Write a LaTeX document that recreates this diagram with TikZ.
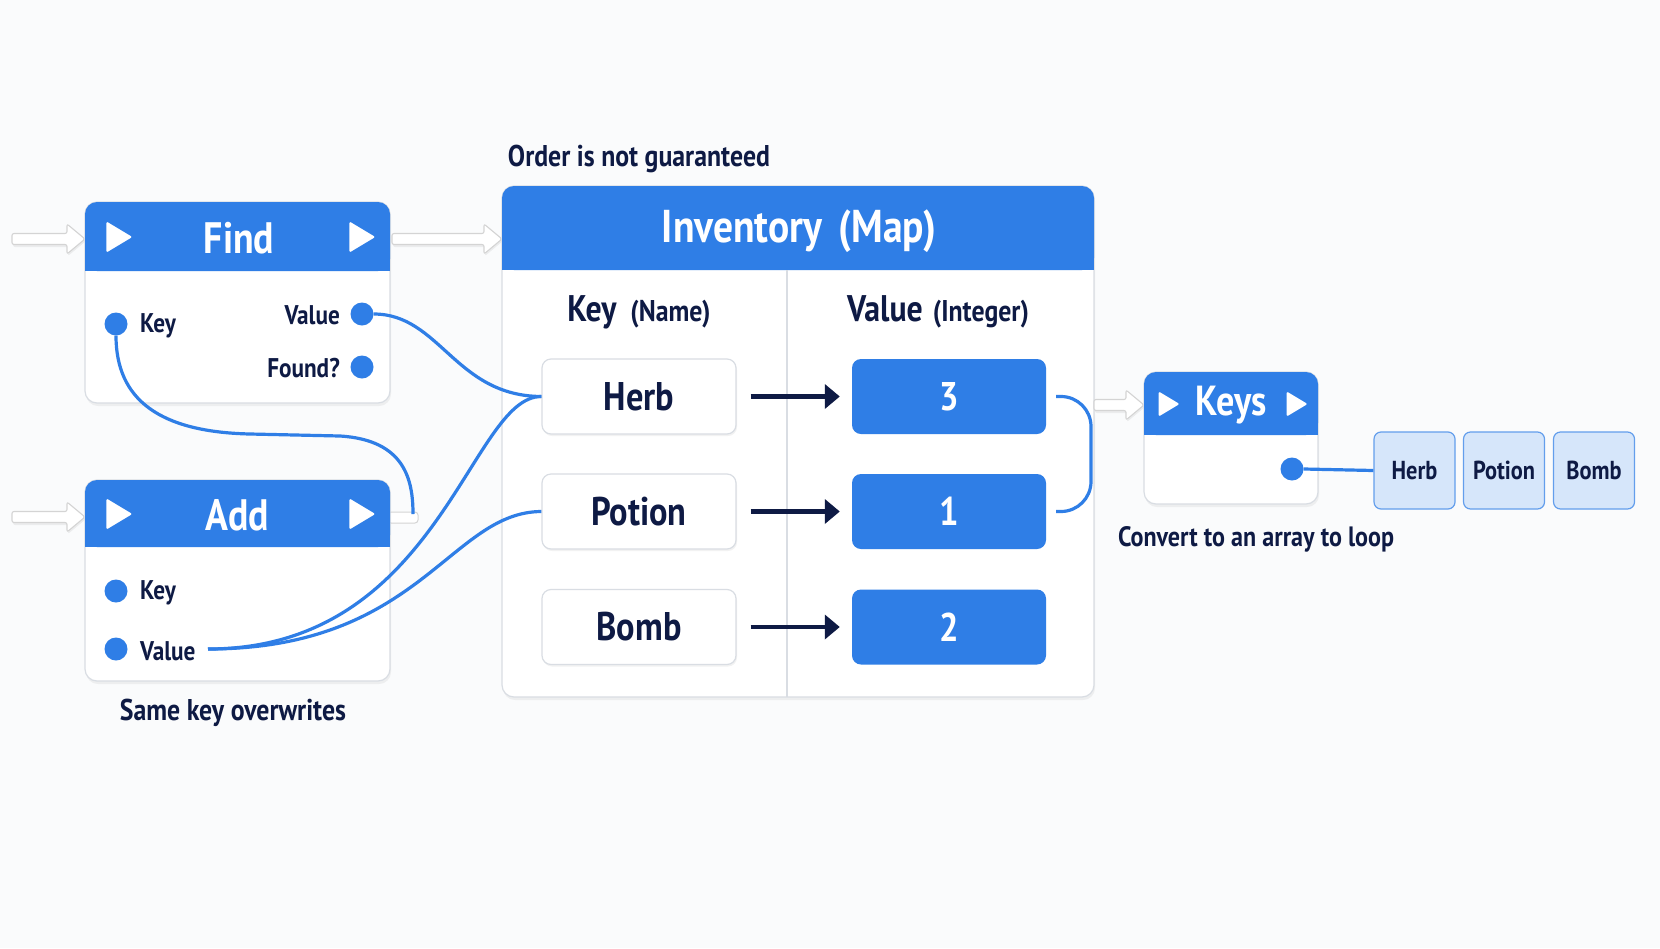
\documentclass[tikz,border=0pt]{standalone}
\usepackage{fontspec}
\setmainfont{PT Sans}[FakeStretch=0.86]
\usetikzlibrary{shadows,arrows.meta,calc}
\definecolor{bl}{HTML}{2F7EE6}
\definecolor{nv}{HTML}{0E1A44}
\definecolor{bgc}{HTML}{FAFBFC}
\definecolor{bd}{HTML}{D9DDE3}
\definecolor{lb}{HTML}{D6E6FA}
\newcommand\fs[1]{\fontsize{#1}{#1}\selectfont}
\newcommand\playtri[3]{\fill[white, rounded corners=1.5] (#1-#3*0.45,#2-#3*0.6) -- (#1+#3*0.55,#2) -- (#1-#3*0.45,#2+#3*0.6) -- cycle;}
\newcommand\harrow[3]{%
 \fill[black, opacity=0.06, rounded corners=2] (#1+1,#3-4) -- (#2-17,#3-4) -- (#2-17,#3-13) -- (#2+1,#3+2) -- (#2-17,#3+17) -- (#2-17,#3+8) -- (#1+1,#3+8) -- cycle;
 \filldraw[fill=white, draw=black!17, line width=1.1pt, rounded corners=2] (#1,#3-5.5) -- (#2-18,#3-5.5) -- (#2-18,#3-15) -- (#2,#3) -- (#2-18,#3+15) -- (#2-18,#3+5.5) -- (#1,#3+5.5) -- cycle;}
\newcommand\hdr[4]{\fill[bl, rounded corners=12] (#1,#3) rectangle (#2,#4); \fill[bl] (#1,#4-15) rectangle (#2,#4);}
\begin{document}
\begin{tikzpicture}[x=1pt,y=-1pt,
 card/.style={draw=bd, line width=1.2pt, fill=white, rounded corners=12, inner sep=0,
   drop shadow={opacity=0.10, shadow xshift=1pt, shadow yshift=-3pt}},
 hdrtxt/.style={text=white, font=\fs{44}\bfseries, inner sep=0},
 lbl/.style={text=nv, font=\fs{27}\bfseries, inner sep=0},
 note/.style={text=nv, font=\fs{29}\bfseries, inner sep=0},
 dot/.style={circle, fill=bl, minimum size=23pt, inner sep=0},
 wire/.style={draw=bl, line width=3.2pt},
 kbox/.style={draw=bd, line width=1.2pt, fill=white, rounded corners=9, minimum width=194pt, minimum height=75pt, inner sep=0,
   text=nv, font=\fs{40}\bfseries, drop shadow={opacity=0.10, shadow xshift=1pt, shadow yshift=-2pt}},
 vbox/.style={fill=bl, rounded corners=9, minimum width=194pt, minimum height=75pt, inner sep=0, text=white, font=\fs{40}\bfseries},
 abox/.style={fill=lb, draw=bl!75, line width=1.2pt, rounded corners=7, minimum width=81pt, minimum height=77pt, inner sep=0,
   text=nv, font=\fs{26}\bfseries},
 arr/.style={draw=nv, line width=4.5pt, -{Triangle[length=15pt,width=24pt]}, shorten <=14pt, shorten >=12pt}]
\fill[bgc] (0,0) rectangle (1660,948);
\useasboundingbox (0,0) rectangle (1660,948);

% ---- Find card
\harrow{12}{85}{239}
\harrow{392}{502}{239}
\node[card, minimum width=305pt, minimum height=201pt] (find) at (237.5,302.5) {};
\hdr{85}{390}{202}{271}
\playtri{118}{237}{26}
\playtri{361}{237}{26}
\node[hdrtxt] (findT) at (239,238) {Find};
\node[dot] (fk) at (116,324) {};
\node[lbl, anchor=west] (fkL) at (140,326) {Key};
\node[dot] (fv) at (362,314) {};
\node[lbl, anchor=east] (fvL) at (340,315) {Value};
\node[dot] (ff) at (362,367) {};
\node[lbl, anchor=east] (ffL) at (340,368) {Found?};

% ---- Add card
\harrow{12}{85}{517}
\filldraw[fill=white, draw=black!17, line width=1pt, rounded corners=3] (388,512) rectangle (418,523);
\coordinate (astub) at (413,514);
\node[card, minimum width=305pt, minimum height=201pt] (add) at (237.5,580.5) {};
\hdr{85}{390}{480}{547}
\playtri{118}{514}{26}
\playtri{361}{514}{26}
\node[hdrtxt] (addT) at (237,515) {Add};
\node[dot] (ak) at (116,591) {};
\node[lbl, anchor=west] (akL) at (140,593) {Key};
\node[dot] (av) at (116,649) {};
\node[lbl, anchor=west] (avL) at (140,651) {Value};
\coordinate (avw) at (208,649);
\node[note, font=\fs{30}\bfseries] (sameN) at (233,713) {Same key overwrites};

% ---- Inventory
\node[note, font=\fs{30}\bfseries] (orderN) at (639,159) {Order is not guaranteed};
\node[card, minimum width=592pt, minimum height=511pt] (inv) at (798,441.5) {};
\hdr{502}{1094}{186}{270}
\node[hdrtxt, font=\fs{46}\bfseries] (invT) at (799,231) {Inventory\hspace{16pt}(Map)};
\draw[bd, line width=1.2pt] (787,270) -- (787,697);
\node[text=nv, inner sep=0] (keyH) at (639,312) {{\fs{37}\bfseries Key}\hspace{14pt}{\fs{30}\bfseries (Name)}};
\node[text=nv, inner sep=0] (valH) at (938,312) {{\fs{37}\bfseries Value}\hspace{10pt}{\fs{30}\bfseries (Integer)}};
\node[kbox] (herb) at (639,396.5) {Herb};
\node[kbox] (potion) at (639,511.5) {Potion};
\node[kbox] (bomb) at (639,627) {Bomb};
\node[vbox] (v3) at (949,396.5) {3};
\node[vbox] (v1) at (949,511.5) {1};
\node[vbox] (v2) at (949,627) {2};
\draw[arr] (herb) -- (v3);
\draw[arr] (potion) -- (v1);
\draw[arr] (bomb) -- (v2);

% ---- Keys
\harrow{1094}{1144}{405}
\node[card, minimum width=174pt, minimum height=132pt] (keys) at (1231,438) {};
\hdr{1144}{1318}{372}{435}
\playtri{1168}{404}{21}
\playtri{1296}{404}{21}
\node[hdrtxt, font=\fs{42}\bfseries] (keysT) at (1231,405) {Keys};
\node[dot] (kd) at (1292,469) {};
\node[abox] (aherb) at (1414.5,470.5) {Herb};
\node[abox] (apotion) at (1504,470.5) {Potion};
\node[abox] (abomb) at (1594,470.5) {Bomb};
\node[note, font=\fs{28}\bfseries] (convN) at (1256,539) {Convert to an array to loop};

% ---- wires
\draw[wire] (fv.east) .. controls (440,314) and (455,396) .. (herb.west);
\draw[wire] (fk.south) .. controls (116,400) and (160,432) .. (250,434) -- (340,436) .. controls (405,440) and (413,480) .. (astub);
\draw[wire] (avw) .. controls (420,649) and (450,512) .. (potion.west);
\draw[wire] (avw) .. controls (440,649) and (470,396) .. (herb.west);
\draw[wire, rounded corners=30] ($(v3.east)+(10,0)$) -- (1091,396.5) -- (1091,511.5) -- ($(v1.east)+(10,0)$);
\draw[wire] (kd.east) -- (aherb.west);
\end{tikzpicture}
\end{document}
